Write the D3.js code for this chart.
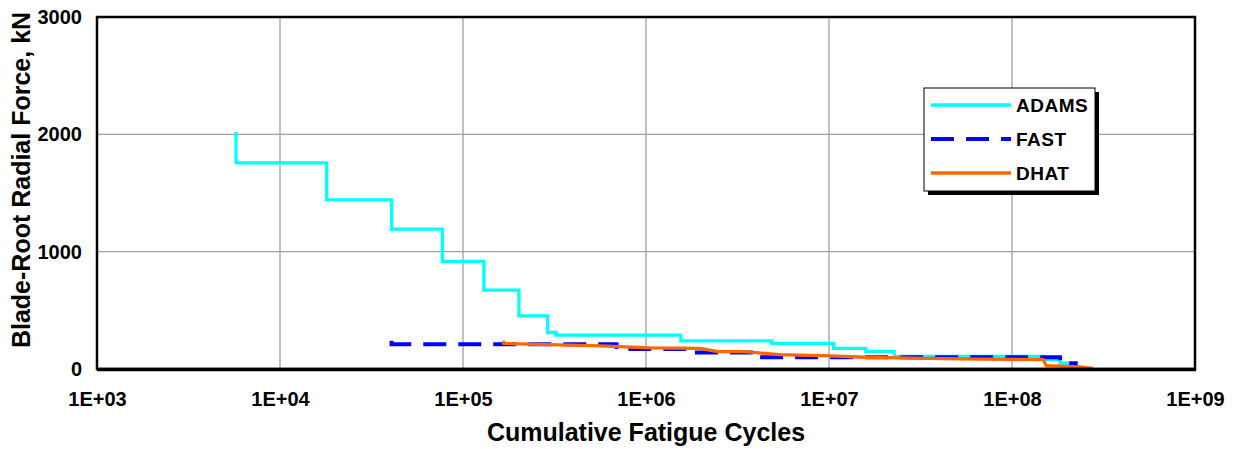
<!DOCTYPE html>
<html><head><meta charset="utf-8">
<script src="https://cdn.jsdelivr.net/npm/d3@7"></script>
<style>body{margin:0;background:#fff}svg{display:block}text{font-family:Arial,"Liberation Sans",sans-serif;font-weight:bold;fill:#000}</style>
</head><body><svg id="c" width="1236" height="449"></svg>
<script>
const xTicks = [1e3,1e4,1e5,1e6,1e7,1e8,1e9];
const xTickLabels = ["1E+03","1E+04","1E+05","1E+06","1E+07","1E+08","1E+09"];
const yTicks = [0,1000,2000,3000];
const seriesNames = ["ADAMS","FAST","DHAT"];
const adamsCycles = [5750,5750,18000,40700,77100,130000,202000,290000,322000,1550000,4860000,10600000,15900000,22700000,151000000,183000000,203000000,210000000];
const adamsForce  = [2020,1757,1441,1192,918,672,452,311,288,240,218,175,150,108,80,50,20,20];
const fastCycles = [40700,40700,690000,1780000,4200000,183000000,200000000,223000000,228000000];
const fastForce  = [240,212,170,141,100,70,48,12,12];
const dhatCycles = [167000,167000,560000,1050000,1970000,2470000,3470000,5400000,10100000,15700000,27700000,66900000,148000000,154000000,236000000,277000000];
const dhatForce  = [240,218,197,180,175,148,148,122,112,100,92,85,80,28,18,5];

const L=97,R=1195,T=17,B=369;
const svg=d3.select("#c");
const x=d3.scaleLog().domain([1e3,1e9]).range([L,R]);
const y=d3.scaleLinear().domain([0,3000]).range([B,T]);

// gridlines
svg.append("g").selectAll("line").data(xTicks.slice(1,-1)).join("line")
  .attr("x1",d=>x(d)).attr("x2",d=>x(d)).attr("y1",T).attr("y2",B)
  .attr("stroke","#a0a0a0").attr("stroke-width",1.3);
svg.append("g").selectAll("line").data(yTicks.slice(1,-1)).join("line")
  .attr("x1",L).attr("x2",R).attr("y1",d=>y(d)).attr("y2",d=>y(d))
  .attr("stroke","#a0a0a0").attr("stroke-width",1.3);

// tick labels via axes
const xAxis=svg.append("g").attr("transform",`translate(0,${B})`)
  .call(d3.axisBottom(x).tickValues(xTicks).tickFormat((d,i)=>xTickLabels[i]).tickSize(0).tickPadding(23));
xAxis.select(".domain").remove();
xAxis.selectAll("text").attr("font-size",20).attr("font-family","Arial,'Liberation Sans',sans-serif").attr("font-weight","bold").attr("fill","#000");
const yAxis=svg.append("g").attr("transform",`translate(${L},0)`)
  .call(d3.axisLeft(y).tickValues(yTicks).tickFormat(d3.format("d")).tickSize(0).tickPadding(15));
yAxis.select(".domain").remove();
yAxis.selectAll("text").attr("font-size",20).attr("font-family","Arial,'Liberation Sans',sans-serif").attr("font-weight","bold").attr("fill","#000");

// series
const mk=(xs,ys)=>xs.map((c,i)=>[c,ys[i]]);
const stepLine=d3.line().x(d=>x(d[0])).y(d=>y(d[1])).curve(d3.curveStepAfter);
const lin=d3.line().x(d=>x(d[0])).y(d=>y(d[1]));
svg.append("path").attr("d",stepLine(mk(adamsCycles,adamsForce))).attr("fill","none")
  .attr("stroke","#00ffff").attr("stroke-width",3.3);
svg.append("path").attr("d",stepLine(mk(fastCycles,fastForce))).attr("fill","none")
  .attr("stroke","#0000ff").attr("stroke-width",4).attr("stroke-dasharray","23,12");
svg.append("path").attr("d",lin(mk(dhatCycles,dhatForce))).attr("fill","none")
  .attr("stroke","#ff6600").attr("stroke-width",3.3).attr("stroke-linejoin","round");

// frame
svg.append("rect").attr("x",L).attr("y",T).attr("width",R-L).attr("height",B-T)
  .attr("fill","none").attr("stroke","#000").attr("stroke-width",2.5);
svg.append("line").attr("x1",L).attr("x2",R+1).attr("y1",B+0.5).attr("y2",B+0.5).attr("stroke","#000").attr("stroke-width",3.5);

// axis titles
svg.append("text").attr("x",(L+R)/2).attr("y",441).attr("text-anchor","middle").attr("font-size",25).text("Cumulative Fatigue Cycles");
svg.append("text").attr("transform",`translate(30,180) rotate(-90)`).attr("text-anchor","middle").attr("font-size",25).text("Blade-Root Radial Force, kN");

// legend
const lg=svg.append("g");
lg.append("rect").attr("x",928).attr("y",92).attr("width",171).attr("height",103).attr("fill","#000");
lg.append("rect").attr("x",924).attr("y",88).attr("width",171).attr("height",103).attr("fill","#fff").attr("stroke","#000").attr("stroke-width",1);
const cols=["#00ffff","#0000ff","#ff6600"];
const ly=[105,139,173];
seriesNames.forEach((n,i)=>{
  lg.append("line").attr("x1",931).attr("x2",1011).attr("y1",ly[i]).attr("y2",ly[i])
    .attr("stroke",cols[i]).attr("stroke-width",i==1?4:3.3).attr("stroke-dasharray",i==1?"23,12":null);
  lg.append("text").attr("x",1016).attr("y",ly[i]).attr("dy","0.36em").attr("font-size",19).attr("letter-spacing",0.5).text(n);
});
</script></body></html>
